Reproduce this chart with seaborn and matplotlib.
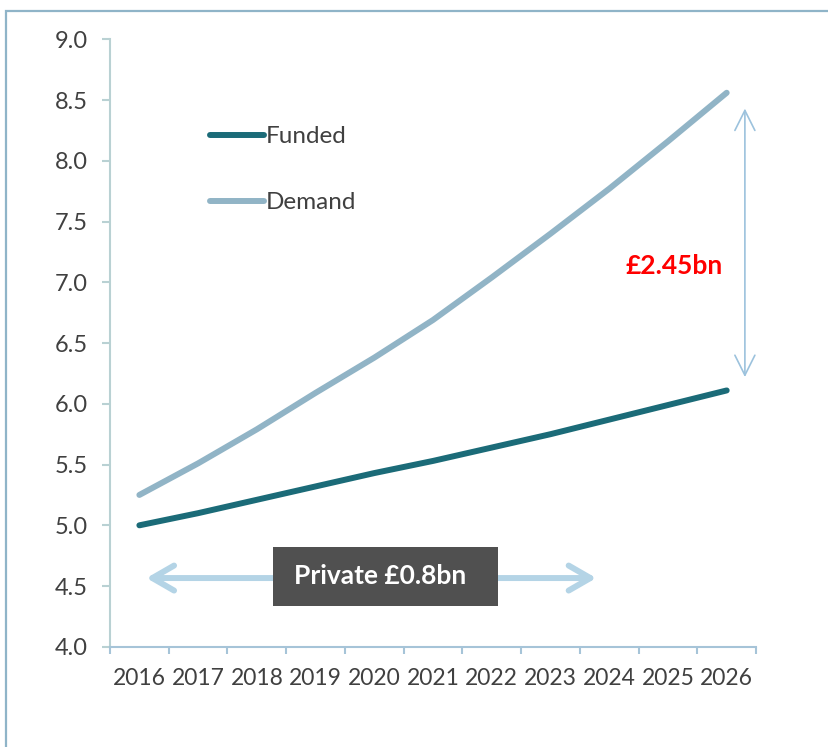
import matplotlib
matplotlib.use("Agg")
import matplotlib.pyplot as plt
import matplotlib.patches as mpatches
import numpy as np
import pandas as pd
import seaborn as sns

years = [2016, 2017, 2018, 2019, 2020, 2021, 2022, 2023, 2024, 2025, 2026]
funded = [5.00, 5.10, 5.21, 5.32, 5.43, 5.53, 5.64, 5.75, 5.87, 5.99, 6.11]
demand = [5.25, 5.51, 5.79, 6.09, 6.38, 6.69, 7.04, 7.40, 7.77, 8.16, 8.56]
series_names = ["Funded", "Demand"]
y_ticks = [4.0, 4.5, 5.0, 5.5, 6.0, 6.5, 7.0, 7.5, 8.0, 8.5, 9.0]
gap_label = "£2.45bn"
private_label = "Private £0.8bn"

df = pd.DataFrame({
    "year": years * 2,
    "value": funded + demand,
    "series": [series_names[0]] * len(years) + [series_names[1]] * len(years),
})

sns.set_theme(style="white")
plt.rcParams["font.family"] = ["Lato", "DejaVu Sans"]

text_col = "#404040"
yspine_col = "#b9d1d3"
xspine_col = "#a6c4d8"

fig = plt.figure(figsize=(8.29, 7.47), dpi=100)
ax = fig.add_axes([0.1327, 0.1341, 0.7793, 0.8133])

palette = {"Funded": "#1b6b78", "Demand": "#91b4c6"}
sns.lineplot(data=df, x="year", y="value", hue="series", hue_order=series_names,
             palette=palette, linewidth=4.3, legend=False, ax=ax, zorder=3)
for ln in ax.lines:
    ln.set_solid_capstyle("round")
    ln.set_solid_joinstyle("round")

ax.set_xlim(years[0] - 0.5, years[-1] + 0.5)
ax.set_ylim(y_ticks[0], y_ticks[-1])
ax.set_xlabel("")
ax.set_ylabel("")

# y axis
ax.set_yticks(y_ticks)
ax.set_yticklabels([f"{v:.1f}" for v in y_ticks])
ax.tick_params(axis="y", which="major", direction="out", length=6, width=1.5,
               color=yspine_col, labelcolor=text_col, labelsize=17, pad=10, left=True)

# x axis: ticks between categories, labels at centres
ax.set_xticks(np.arange(years[0] - 0.5, years[-1] + 1, 1.0))
ax.set_xticklabels([])
ax.set_xticks(years, minor=True)
ax.set_xticklabels([str(y) for y in years], minor=True)
ax.tick_params(axis="x", which="major", direction="out", length=5, width=1.5,
               color=xspine_col, bottom=True)
ax.tick_params(axis="x", which="minor", length=0, labelcolor=text_col,
               labelsize=16.5, pad=15)

for s in ["top", "right"]:
    ax.spines[s].set_visible(False)
ax.spines["left"].set_color(yspine_col)
ax.spines["left"].set_linewidth(1.5)
ax.spines["bottom"].set_color(xspine_col)
ax.spines["bottom"].set_linewidth(1.5)
ax.grid(False)

# legend
handles = ax.lines[:2]
leg = ax.legend(handles, series_names, loc="upper left", bbox_to_anchor=(0.121, 0.893),
                frameon=False, handlelength=2.2, handletextpad=0.1, labelspacing=1.85,
                prop={"size": 17.5})
for t in leg.get_texts():
    t.set_color(text_col)

# gap arrow
ax.annotate("", xy=(2026.31, 8.43), xytext=(2026.31, 6.22),
            arrowprops=dict(arrowstyle="<->,head_length=1.2,head_width=0.6",
                            color="#9cc2dd", lw=1.2, shrinkA=0, shrinkB=0))
ax.text(2025.11, 7.134, gap_label, color="#ff0000", fontsize=19, fontweight="bold",
        ha="center", va="center")

# private arrow + box
ax.annotate("", xy=(2016.12, 4.566), xytext=(2023.78, 4.566),
            arrowprops=dict(arrowstyle="<->,head_length=1.3,head_width=0.75",
                            color="#b4d4e6", lw=4.3, shrinkA=0, shrinkB=0,
                            capstyle="round", joinstyle="round"))
ax.add_patch(mpatches.Rectangle((2018.28, 4.338), 3.83, 0.486, facecolor="#505050",
                                edgecolor="none", zorder=5))
ax.text(2020.1, 4.583, private_label, color="white", fontsize=19, fontweight="bold",
        ha="center", va="center", zorder=6)

# outer border
fig.patches.append(mpatches.Rectangle((6.5 / 829, -0.05), 1.1, 1 - 10.5 / 747 + 0.05,
                                      transform=fig.transFigure, fill=False,
                                      edgecolor="#8fb4c8", linewidth=1.6, clip_on=False))

fig.savefig("out.png", dpi=100)
